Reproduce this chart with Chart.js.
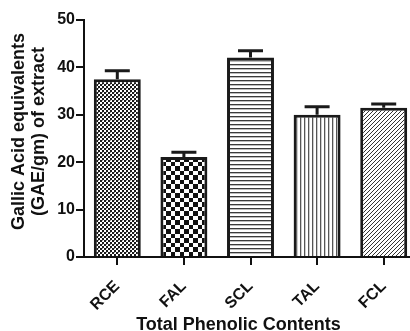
<!DOCTYPE html>
<html>
<head>
<meta charset="utf-8">
<style>
  html, body { margin: 0; padding: 0; background: #fff; overflow: hidden; }
  canvas { display: block; }
</style>
<script src="https://cdn.jsdelivr.net/npm/chart.js"></script>
</head>
<body>
<canvas id="phenolChart" width="420" height="331"></canvas>
<script>
// Total phenolic contents (GAE/gm of extract), mean + SEM
const categories = ['RCE', 'FAL', 'SCL', 'TAL', 'FCL'];
const means = [37.5, 21.1, 42.1, 30.0, 31.5];
const errors = [1.8, 1.0, 1.4, 1.7, 0.8];
const yTicks = [0, 10, 20, 30, 40, 50];

const yTitle = ['Gallic Acid equivalents', '(GAE/gm) of extract'];
const xTitle = 'Total Phenolic Contents';

// petits motifs de remplissage façon GraphPad
function makePattern(size, draw) {
  const c = document.createElement('canvas');
  c.width = size; c.height = size;
  const g = c.getContext('2d');
  g.fillStyle = '#fff';
  g.fillRect(0, 0, size, size);
  draw(g, size);
  return c.getContext('2d').createPattern(c, 'repeat');
}
const patterns = [
  makePattern(4, (g) => { g.fillStyle = '#1a1a1a'; g.fillRect(0, 0, 2, 2); g.fillRect(2, 2, 2, 2); g.fillStyle = '#999'; g.fillRect(2, 0, 1, 1); }),
  makePattern(9, (g) => { g.fillStyle = '#111'; g.fillRect(0, 0, 4, 4); g.fillRect(4, 4, 5, 5); }),
  makePattern(4, (g) => { g.fillStyle = '#3a3a3a'; g.fillRect(0, 0, 4, 1); g.fillStyle = '#bbb'; g.fillRect(0, 1, 4, 1); }),
  makePattern(4, (g) => { g.fillStyle = '#555'; g.fillRect(0, 0, 1, 4); g.fillStyle = '#ccc'; g.fillRect(1, 0, 1, 4); }),
  makePattern(4, (g, n) => { g.fillStyle = '#333'; for (let i = 0; i < n; i++) g.fillRect(i, n - 1 - i, 1, 1); })
];

const errorBars = {
  id: 'errorBars',
  afterDatasetsDraw(chart) {
    const ctx = chart.ctx;
    const y = chart.scales.y;
    const meta = chart.getDatasetMeta(0);
    ctx.save();
    ctx.strokeStyle = '#1a1a1a';
    ctx.lineWidth = 3;
    meta.data.forEach((bar, i) => {
      const y0 = y.getPixelForValue(means[i]);
      const y1 = y.getPixelForValue(means[i] + errors[i]);
      ctx.beginPath();
      ctx.moveTo(bar.x, y0);
      ctx.lineTo(bar.x, y1);
      ctx.moveTo(bar.x - 12.5, y1);
      ctx.lineTo(bar.x + 12.5, y1);
      ctx.stroke();
    });
    ctx.restore();
  }
};

const axisTitles = {
  id: 'axisTitles',
  afterDraw(chart) {
    const ctx = chart.ctx;
    ctx.save();
    ctx.fillStyle = '#111';
    ctx.font = 'bold 18px "Liberation Sans", Arial, sans-serif';
    ctx.textAlign = 'center';
    ctx.textBaseline = 'middle';
    ctx.translate(0, 131.5);
    ctx.rotate(-Math.PI / 2);
    yTitle.forEach((t, i) => ctx.fillText(t, 0, 19.5 + i * 20));
    ctx.restore();
    ctx.save();
    ctx.fillStyle = '#111';
    ctx.font = 'bold 18px "Liberation Sans", Arial, sans-serif';
    ctx.textAlign = 'center';
    ctx.textBaseline = 'alphabetic';
    ctx.fillText(xTitle, 238.5, 330);
    ctx.restore();
  }
};

new Chart(document.getElementById('phenolChart').getContext('2d'), {
  type: 'bar',
  data: {
    labels: categories,
    datasets: [{
      data: means,
      backgroundColor: patterns,
      borderColor: '#1a1a1a',
      borderWidth: 3,
      borderSkipped: 'start',
      categoryPercentage: 1,
      barPercentage: 0.705
    }]
  },
  options: {
    responsive: false,
    animation: false,
    layout: { padding: { top: 20, right: 3, left: 0, bottom: 0 } },
    plugins: { legend: { display: false }, tooltip: { enabled: false } },
    scales: {
      x: {
        grid: { offset: false, drawOnChartArea: false, tickLength: 8, lineWidth: 2, color: '#111' },
        border: { color: '#111', width: 2 },
        ticks: {
          color: '#111', minRotation: 45, maxRotation: 45, padding: 12,
          font: { family: '"Liberation Sans", Arial, sans-serif', size: 16, weight: 'bold' }
        },
        afterFit: (s) => { s.height = 74; }
      },
      y: {
        min: 0, max: 50,
        afterBuildTicks: (s) => { s.ticks = yTicks.map(v => ({ value: v })); },
        grid: { drawOnChartArea: false, tickLength: 8, lineWidth: 2, color: '#111' },
        border: { color: '#111', width: 2 },
        ticks: {
          color: '#111', padding: 1,
          font: { family: '"Liberation Sans", Arial, sans-serif', size: 16, weight: 'bold' }
        },
        afterFit: (s) => { s.width = 84; }
      }
    }
  },
  plugins: [errorBars, axisTitles]
});
</script>
</body>
</html>
